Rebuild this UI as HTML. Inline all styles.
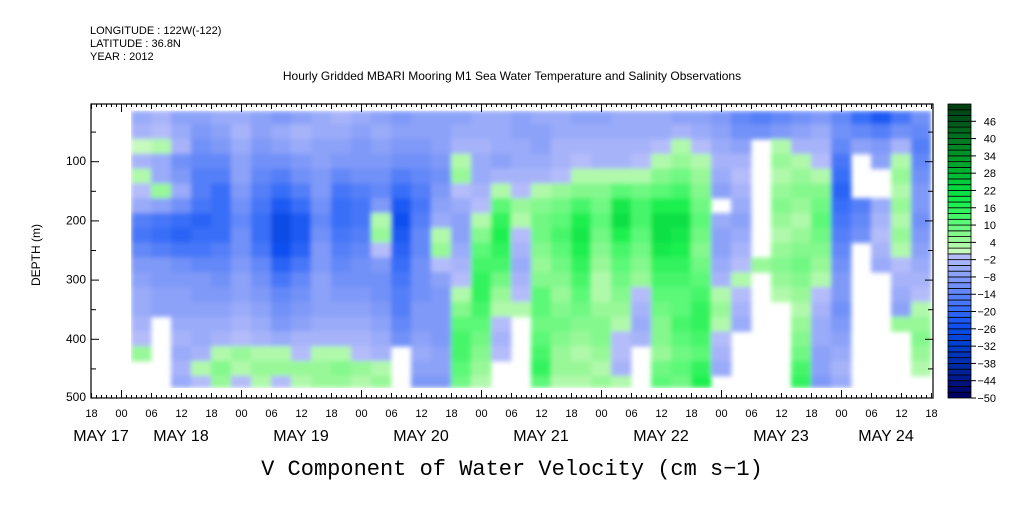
<!DOCTYPE html>
<html><head><meta charset="utf-8"><style>
body{margin:0;background:#fff;}
svg text{font-family:"Liberation Sans",sans-serif;fill:#000;}
</style></head><body>
<svg id="chart" width="1009" height="504" viewBox="0 0 1009 504" xmlns="http://www.w3.org/2000/svg">
<defs><filter id="sm" x="0" y="0" width="1" height="1"><feGaussianBlur stdDeviation="2.5"/></filter></defs>
<g font-size="11">
<text x="90" y="34">LONGITUDE : 122W(-122)</text>
<text x="90" y="47">LATITUDE : 36.8N</text>
<text x="90" y="60">YEAR : 2012</text>
</g>
<text x="512" y="80" font-size="12" text-anchor="middle">Hourly Gridded MBARI Mooring M1 Sea Water Temperature and Salinity Observations</text>
<g id="heat" filter="url(#sm)"></g>
<g id="axes"></g>
<g id="cbar"></g>
<text x="40" y="255" font-size="12" text-anchor="middle" transform="rotate(-90 40 255)">DEPTH (m)</text>
<text x="512" y="475" font-size="22" text-anchor="middle" style="font-family:'Liberation Mono',monospace">V Component of Water Velocity (cm s−1)</text>
</svg>
<script>
const N = NaN;
const depths = [25,50,75,100,125,150,175,200,225,250,275,300,325,350,375,400,425,450,475];
const colHours = [];
for (let i = 0; i < 40; i++) colHours.push(10 + 4*i);
const grid = [
[-6,-4,0,-4,2,-2,-6,-16,-18,-14,-10,-8,-6,-6,-4,-2,4,N,N],
[-4,-2,2,-6,-6,4,-8,-18,-20,-16,-10,-10,-8,-8,N,N,N,N,N],
[-8,-6,-4,-12,-10,-6,-12,-20,-22,-18,-12,-10,-8,-8,-6,-4,-6,-4,-6],
[-8,-10,-12,-14,-16,-16,-18,-22,-20,-18,-14,-10,-10,-8,-6,-6,-4,2,-2],
[-6,-8,-10,-14,-16,-20,-20,-20,-20,-16,-14,-12,-10,-8,-6,-4,2,6,4],
[-6,-4,-6,-8,-8,-10,-12,-14,-12,-12,-10,-8,-8,-6,-4,-2,4,2,-2],
[-8,-8,-10,-12,-14,-16,-18,-20,-20,-18,-14,-12,-10,-8,-6,-4,2,4,2],
[-10,-6,-8,-12,-16,-20,-24,-28,-28,-26,-22,-18,-14,-12,-10,-6,2,4,-2],
[-8,-4,-6,-10,-12,-16,-20,-24,-24,-22,-18,-14,-12,-10,-8,-4,-2,4,2],
[-6,-6,-8,-8,-10,-10,-12,-14,-12,-10,-10,-8,-8,-8,-6,-4,2,4,4],
[-4,-6,-8,-10,-14,-18,-20,-20,-18,-16,-14,-12,-10,-8,-6,-4,2,6,4],
[-6,-8,-10,-10,-12,-16,-18,-18,-16,-14,-12,-12,-10,-8,-6,-4,-2,4,2],
[-8,-6,-8,-10,-12,-14,-10,2,4,-2,-10,-12,-12,-10,-8,-6,-4,2,4],
[-10,-8,-10,-12,-16,-20,-24,-26,-24,-22,-20,-18,-16,-16,-14,-12,N,N,N],
[-8,-8,-10,-12,-14,-16,-18,-16,-14,-14,-12,-12,-12,-10,-10,-8,-6,-8,-10],
[-8,-8,-8,-10,-12,-10,-8,-6,2,4,-2,-8,-10,-10,-10,-10,-8,-8,-10],
[-8,-6,-4,2,4,-2,-6,-8,-8,-6,-4,-2,2,6,10,12,12,10,8],
[-6,-6,-4,-6,-6,-4,-2,2,6,10,12,14,14,12,10,8,6,4,2],
[-6,-6,-6,-8,-4,2,10,14,16,14,12,8,4,2,-2,-4,-2,N,N],
[-8,-8,-6,-6,-4,-2,4,2,-2,-4,-6,-4,-2,2,N,N,N,N,N],
[-6,-8,-8,-6,-4,2,6,8,8,6,4,6,10,10,8,10,12,14,10],
[-6,-6,-4,-4,-2,4,8,10,12,10,8,6,4,6,8,6,4,4,2],
[-8,-6,-4,-2,2,6,12,16,18,16,14,12,10,8,6,4,2,4,2],
[-8,-6,-4,-4,2,6,8,10,8,6,4,2,2,4,6,6,4,2,4],
[-6,-6,-4,-4,2,10,18,20,16,12,10,8,6,4,2,-2,-2,-4,2],
[-6,-6,-4,-2,2,8,12,12,10,8,6,4,-2,-4,-6,-4,N,N,N],
[-6,-6,-2,2,6,10,16,20,20,18,14,12,10,8,6,6,4,8,10],
[-8,-4,2,4,8,12,16,20,18,16,14,12,10,10,12,10,8,10,8],
[-8,-6,-2,2,4,6,8,10,8,6,8,10,12,14,14,12,10,14,16],
[-10,-8,-6,-4,-6,-8,N,-6,-8,-8,-6,-4,2,4,2,-2,-4,-6,N],
[-14,-12,-8,-4,-2,-4,-6,-8,-6,-4,-2,2,-2,-4,-6,N,N,N,N],
[-16,-12,N,N,N,N,N,N,N,N,4,N,N,N,N,N,N,N,N],
[-14,-10,2,4,2,4,6,4,2,4,6,4,2,N,N,N,N,N,N],
[-12,-8,-4,2,4,6,4,2,4,6,8,6,4,2,4,6,8,12,14],
[-10,-6,-4,-2,2,6,8,10,8,6,4,2,-2,-4,-6,-6,-8,-8,-10],
[-14,-12,-14,-18,-20,-22,-20,-18,-16,-14,-12,-10,-10,-12,-10,-8,-6,-4,-6],
[-20,-14,-8,N,N,N,-16,-14,-12,N,N,N,N,N,N,N,N,N,N],
[-24,-16,-10,-8,N,N,-6,-4,-2,-4,-6,N,N,N,N,N,N,N,N],
[-18,-12,-4,2,4,2,4,2,4,2,-2,-4,-6,-8,4,N,N,N,N],
[-12,-14,-16,-14,-12,-10,-10,-12,-10,-8,-6,-4,-2,2,4,6,4,2,N]
];
const depthTicks = [100,200,300,400,500];
const hourLabels = ["18","00","06","12"];
const dayLabels = ["MAY 17","MAY 18","MAY 19","MAY 20","MAY 21","MAY 22","MAY 23","MAY 24"];
const dayLabelHours = [2,18,42,66,90,114,138,159];
const cbarTicks = [46,40,34,28,22,16,10,4,-2,-8,-14,-20,-26,-32,-38,-44,-50];

const NS = "http://www.w3.org/2000/svg";
const X0 = 91, X1 = 933, Y0 = 104, Y1 = 398;
const xOf = h => X0 + h*5;
const yOf = d => 102 + d*0.592;
const CB_MIN = -50, CB_MAX = 52;
const cbY = v => Y1 - (v - CB_MIN)/(CB_MAX - CB_MIN)*(Y1 - Y0);
const anchors = [[-50,[0,0,96]],[-44,[0,26,140]],[-38,[0,48,176]],[-32,[0,64,208]],[-26,[16,80,240]],[-20,[56,110,248]],[-14,[100,136,248]],[-8,[140,162,248]],[-2,[180,188,250]],[0,[200,250,190]],[4,[152,248,152]],[10,[92,248,120]],[16,[30,240,80]],[22,[0,216,64]],[28,[0,176,48]],[34,[0,144,40]],[40,[0,112,32]],[46,[0,80,24]],[52,[0,56,16]]];
function color(v){
  const b = Math.floor(v/2)*2;
  let c = anchors[anchors.length-1][1];
  for (let i=0;i<anchors.length-1;i++){
    if (b>=anchors[i][0] && b<anchors[i+1][0]){
      const t=(b-anchors[i][0])/(anchors[i+1][0]-anchors[i][0]);
      c=anchors[i][1].map((a,k)=>Math.round(a+(anchors[i+1][1][k]-a)*t));
      if (b<0 && b>=-2) c=anchors[i][1];
      break;
    }
  }
  return `rgb(${c[0]},${c[1]},${c[2]})`;
}
function mk(tag, attrs, parent){
  const e=document.createElementNS(NS,tag);
  for (const k in attrs) e.setAttribute(k, attrs[k]);
  parent.appendChild(e); return e;
}
const heat=document.getElementById('heat');
colHours.forEach((h,i)=>{
  depths.forEach((d,j)=>{
    const v=grid[i][j];
    if (isNaN(v)) return;
    const top = Math.max(15, d-12.5), bot = Math.min(482, d+12.5);
    const r=mk('rect',{x:xOf(h-2),y:yOf(top),width:xOf(h+2)-xOf(h-2)+0.5,height:yOf(bot)-yOf(top)+0.5,fill:color(v)},heat);
    
    
  });
});
const ax=document.getElementById('axes');
const fr=mk('rect',{x:X0,y:Y0,width:X1-X0,height:Y1-Y0,fill:'none',stroke:'#000','stroke-width':1.2},ax);


for (let h=0; h<=168; h++){
  const x=xOf(h)+0.5;
  const hh=(h+18)%24;
  const len = hh===0?8:(hh%6===0?5:3);
  mk('line',{x1:x,y1:Y0,x2:x,y2:Y0+len,stroke:'#000','stroke-width':1},ax);
  mk('line',{x1:x,y1:Y1,x2:x,y2:Y1-len,stroke:'#000','stroke-width':1},ax);
  if (hh%6===0){
    const t=mk('text',{x:x,y:417,'font-size':11,'text-anchor':'middle'},ax);
    t.textContent=hourLabels[hh/6===0?1:(hh===18?0:(hh===6?2:3))];
    
    
  }
}
dayLabels.forEach((s,i)=>{
  const t=mk('text',{x:xOf(dayLabelHours[i]),y:441,'font-size':16,'text-anchor':'middle'},ax);
  t.textContent=s;
  
  
});
for (let d=50; d<500; d+=50){
  const y=yOf(d)+0.5;
  const len = d%100===0?8:5;
  mk('line',{x1:X0,y1:y,x2:X0+len,y2:y,stroke:'#000'},ax);
  mk('line',{x1:X1,y1:y,x2:X1-len,y2:y,stroke:'#000'},ax);
}
depthTicks.forEach(d=>{
  const t=mk('text',{x:86,y:Math.min(yOf(d),397)+4,'font-size':12,'text-anchor':'end'},ax);
  t.textContent=d;
  
  
});
const cb=document.getElementById('cbar');
for (let v=CB_MIN; v<CB_MAX; v+=2){
  const r=mk('rect',{x:948,y:cbY(v+2),width:23,height:cbY(v)-cbY(v+2),fill:color(v),stroke:'#000','stroke-width':0.8},cb);
  
  
}
cbarTicks.forEach(v=>{
  const y=cbY(v);
  mk('line',{x1:971,y1:y,x2:976,y2:y,stroke:'#000'},cb);
  const t=mk('text',{x:996,y:y+4,'font-size':11,'text-anchor':'end'},cb);
  t.textContent=String(v).replace('-','−');
  
  
});
</script>
</body></html>
